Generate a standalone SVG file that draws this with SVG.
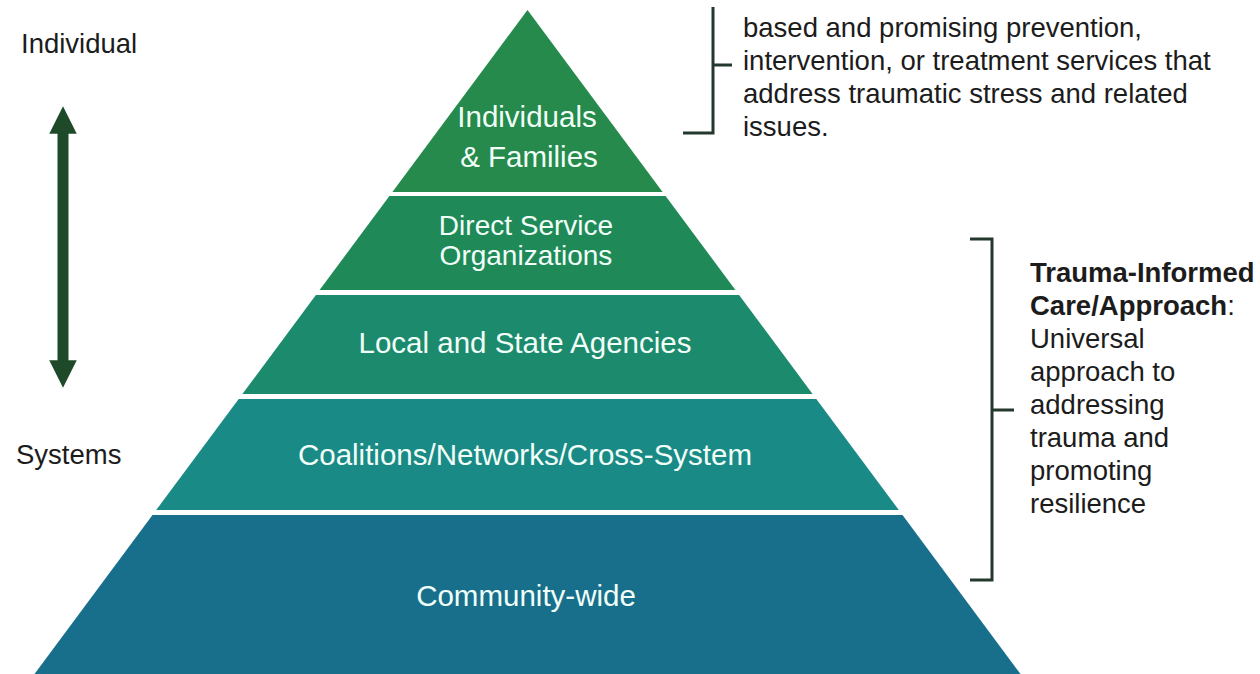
<svg xmlns="http://www.w3.org/2000/svg" width="1260" height="674" viewBox="0 0 1260 674">
<style>
.lbl{font-family:"Liberation Sans",Arial,sans-serif;fill:#1c1c1c;font-size:27.5px}
.b{font-weight:bold}
.pt{font-family:"Liberation Sans",Arial,sans-serif;fill:#f2fff8;font-size:29.5px;text-anchor:middle}
.pt2{font-size:28px}
.br{fill:none;stroke:#24392e;stroke-width:3}
</style>
<defs>
<marker id="ah" viewBox="0 0 10 10" refX="5" refY="5" markerWidth="2.5" markerHeight="2.5" orient="auto-start-reverse"><path d="M0,0 L10,5 L0,10 z" fill="#1f4a2a"/></marker>
</defs>
<rect width="1260" height="674" fill="#ffffff"/>

<g id="layer-individuals">
<polygon points="527.5,10 662.6,192 392.4,192" fill="#258a4c"/>
<text class="pt" x="527" y="127">Individuals</text>
<text class="pt" x="529" y="167">&amp; Families</text>
</g>
<g id="layer-direct">
<polygon points="389.4,196 665.6,196 735.4,290 319.6,290" fill="#1f8a58"/>
<text class="pt pt2" x="526" y="235">Direct Service</text>
<text class="pt pt2" x="526" y="265">Organizations</text>
</g>
<g id="layer-local">
<polygon points="315.9,295 739.1,295 812.6,394 242.4,394" fill="#1c8a6c"/>
<text class="pt" x="525" y="353">Local and State Agencies</text>
</g>
<g id="layer-coalitions">
<polygon points="238.7,399 816.3,399 898.8,510 156.2,510" fill="#1a8a86"/>
<text class="pt" x="525" y="465">Coalitions/Networks/Cross-System</text>
</g>
<g id="layer-community">
<polygon points="152.5,515 902.5,515 1020.5,674 34.5,674" fill="#186f8c"/>
<text class="pt" x="526" y="606">Community-wide</text>
</g>

<g id="axis">
<text class="lbl" x="21" y="53">Individual</text>
<text class="lbl" x="16" y="464">Systems</text>
</g>

<g id="connectors">
<line x1="63" y1="120" x2="63" y2="374" stroke="#1f4a2a" stroke-width="11" marker-start="url(#ah)" marker-end="url(#ah)"/>
<path class="br" d="M683,133 H713 V7 M713,65 H732"/>
<path class="br" d="M970,239 H992 V580 H970 M992,410 H1014"/>
</g>

<g id="note-top">
<text class="lbl" x="743"><tspan x="743" y="37">based and promising prevention,</tspan><tspan x="743" y="70">intervention, or treatment services that</tspan><tspan x="743" y="103">address traumatic stress and related</tspan><tspan x="743" y="136">issues.</tspan></text>
</g>
<g id="note-right">
<text class="lbl" x="1030"><tspan class="b" x="1030" y="282">Trauma-Informed</tspan><tspan x="1030" y="315"><tspan class="b">Care/Approach</tspan>:</tspan><tspan x="1030" y="348">Universal</tspan><tspan x="1030" y="381">approach to</tspan><tspan x="1030" y="414">addressing</tspan><tspan x="1030" y="447">trauma and</tspan><tspan x="1030" y="480">promoting</tspan><tspan x="1030" y="513">resilience</tspan></text>
</g>
</svg>
